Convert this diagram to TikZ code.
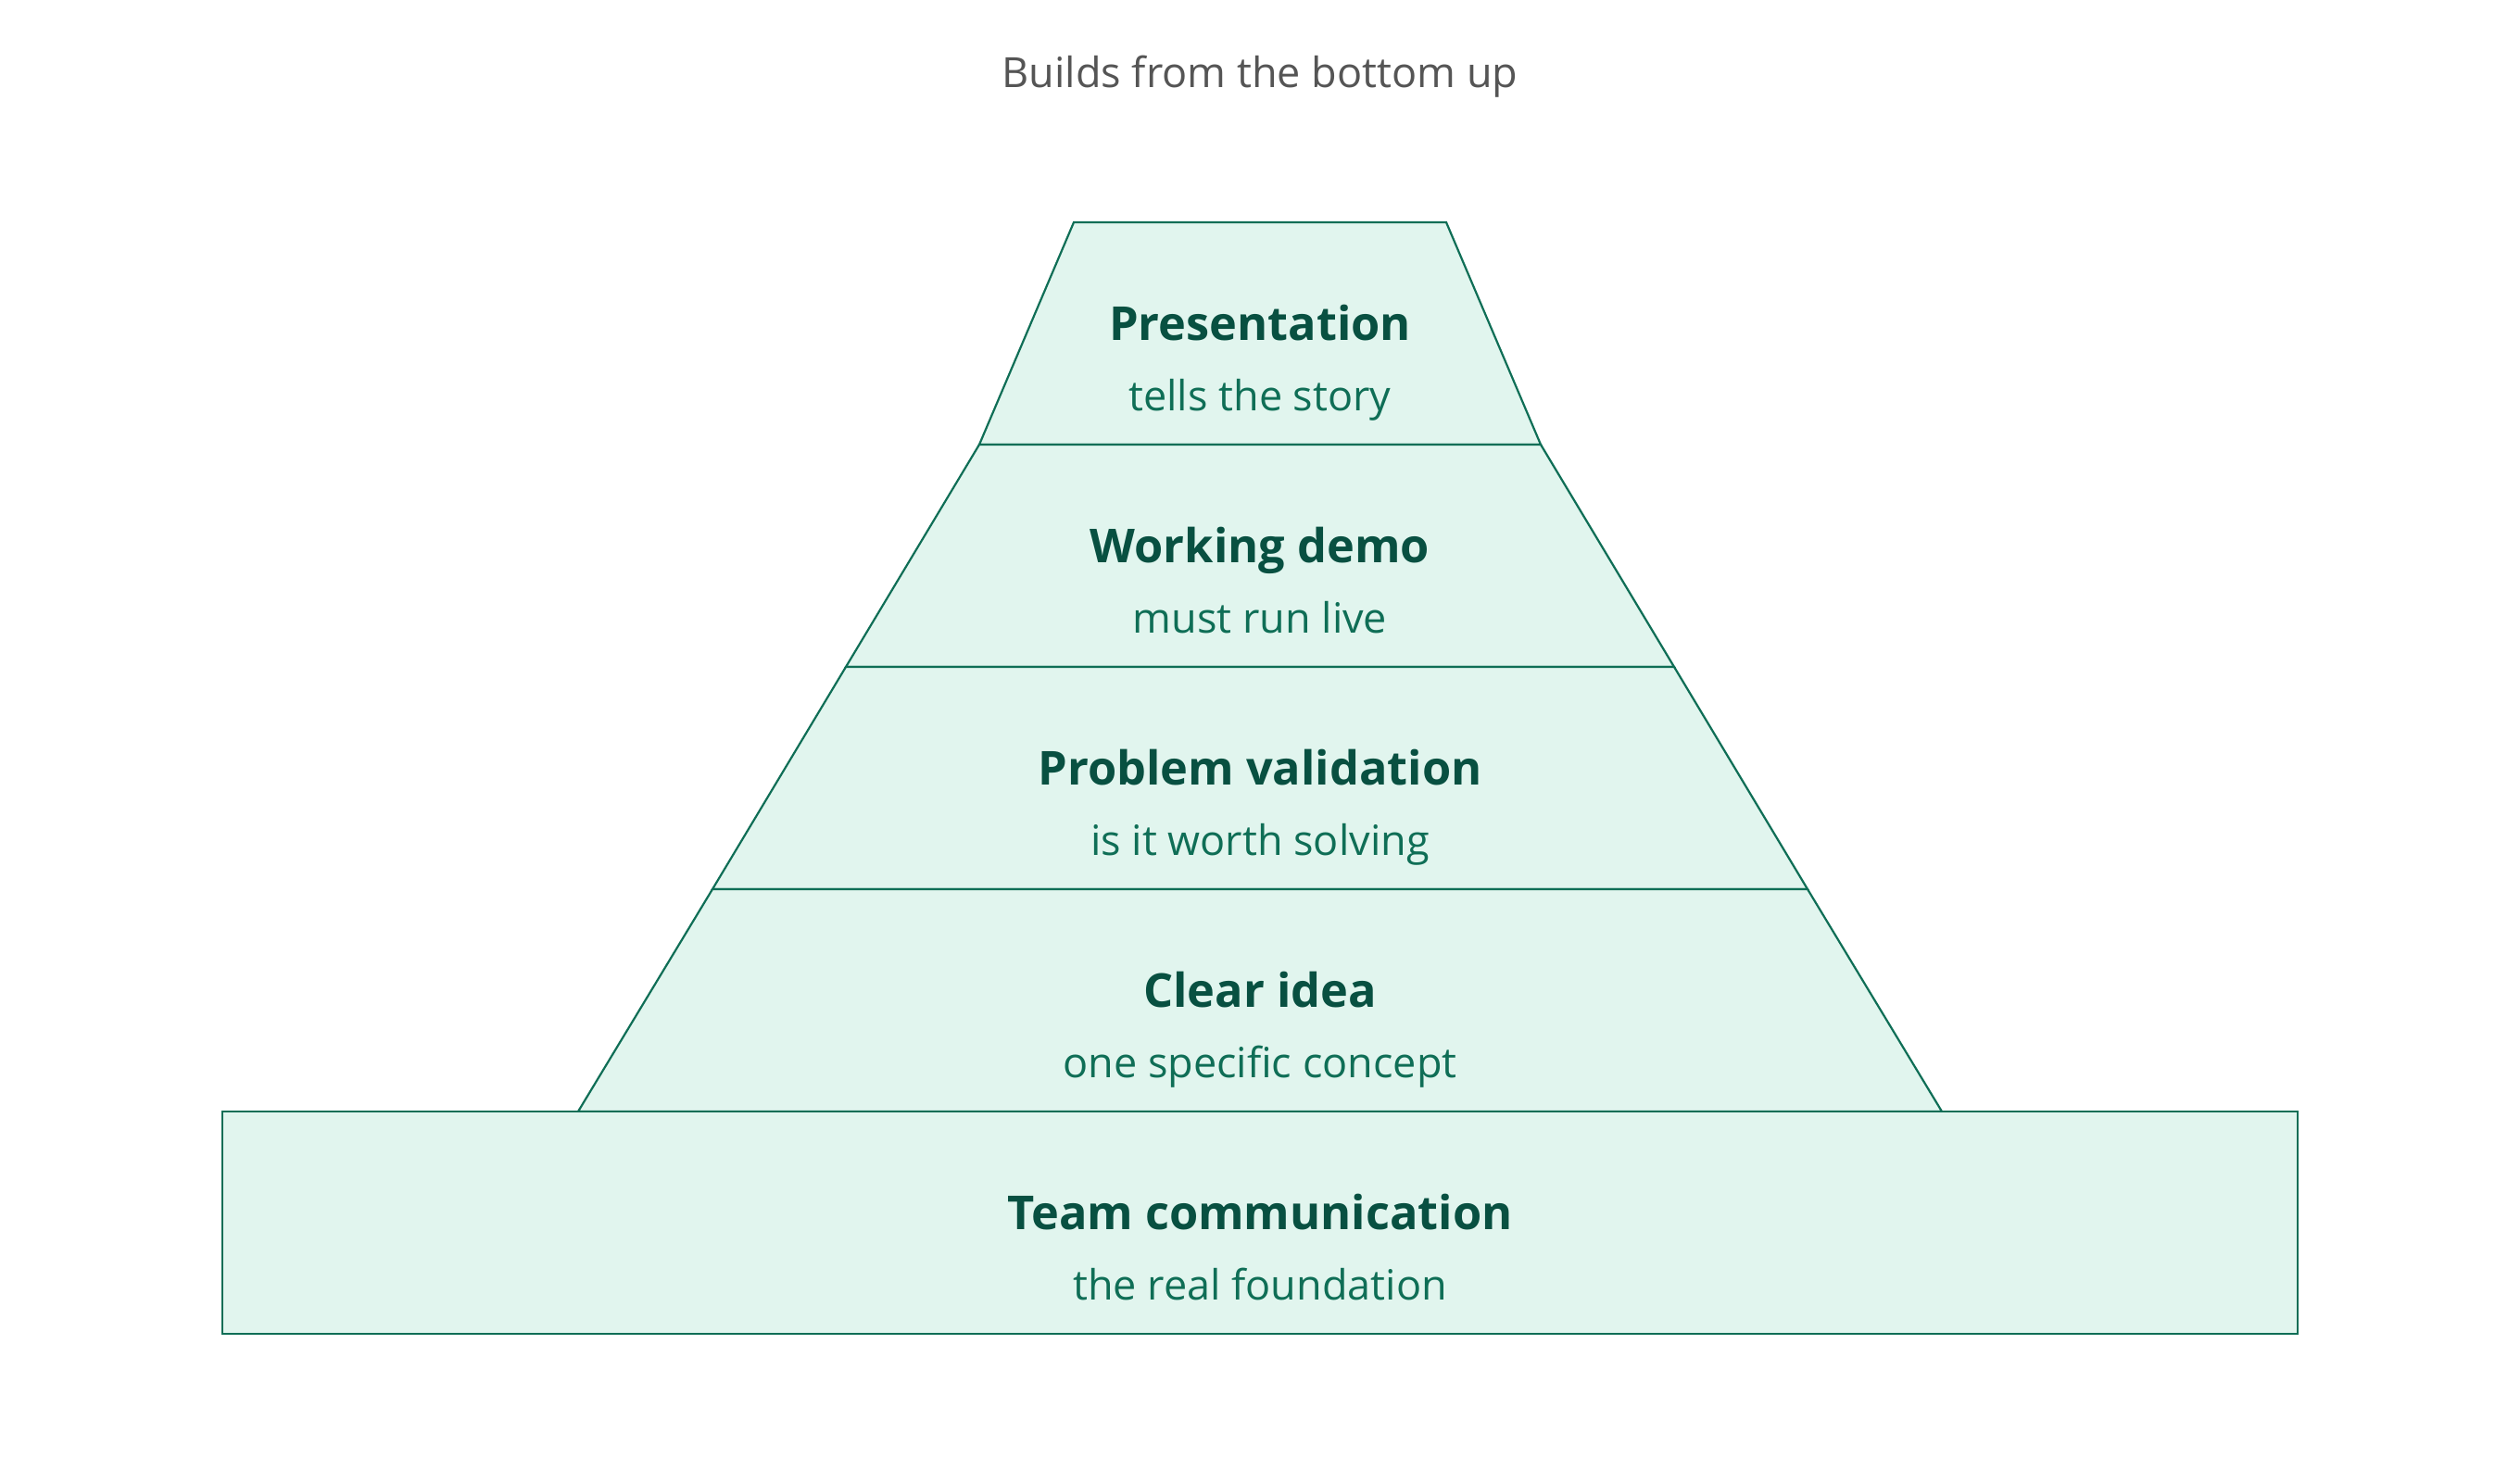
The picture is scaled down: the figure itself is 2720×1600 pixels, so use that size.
\documentclass[tikz,border=0pt]{standalone}
\usepackage{fontspec}
\setmainfont{Open Sans}
\definecolor{tierfill}{HTML}{E1F5EE}
\definecolor{tierline}{HTML}{0F6E56}
\definecolor{headtext}{HTML}{085041}
\definecolor{subtext}{HTML}{0F6E56}
\definecolor{titletext}{HTML}{555555}
\tikzset{
  tier/.style={fill=tierfill, draw=tierline, line width=2.2pt, line join=miter},
  headlabel/.style={anchor=base, text=headtext, font=\fontsize{50.5}{60}\selectfont\bfseries, inner sep=0pt},
  sublabel/.style={anchor=base, text=subtext, font=\fontsize{45}{54}\selectfont, inner sep=0pt},
  titlelabel/.style={anchor=base, text=titletext, font=\fontsize{45}{54}\selectfont, inner sep=0pt}
}
\begin{document}
\begin{tikzpicture}[x=1pt,y=-1pt]
\useasboundingbox (0,0) rectangle (2720,1600);
% title
\node[titlelabel] (title) at (1360,95) {Builds from the bottom up};
% tiers
\path[tier] (1159,240) -- (1561,240) -- (1663,480) -- (1057,480) -- cycle;
\path[tier] (1057,480) -- (1663,480) -- (1807,720) -- (913,720) -- cycle;
\path[tier] (913,720) -- (1807,720) -- (1951,960) -- (769,960) -- cycle;
\path[tier] (769,960) -- (1951,960) -- (2096,1200) -- (624,1200) -- cycle;
\path[tier] (240,1200) rectangle (2480,1440);
% labels
\node[headlabel] (h1) at (1360,367) {Presentation};
\node[sublabel]  (s1) at (1360,443) {tells the story};
\node[headlabel] (h2) at (1360,607) {Working demo};
\node[sublabel]  (s2) at (1360,683) {must run live};
\node[headlabel] (h3) at (1360,847) {Problem validation};
\node[sublabel]  (s3) at (1360,923) {is it worth solving};
\node[headlabel] (h4) at (1360,1087) {Clear idea};
\node[sublabel]  (s4) at (1360,1163) {one specific concept};
\node[headlabel] (h5) at (1360,1327) {Team communication};
\node[sublabel]  (s5) at (1360,1403) {the real foundation};
\end{tikzpicture}
\end{document}
